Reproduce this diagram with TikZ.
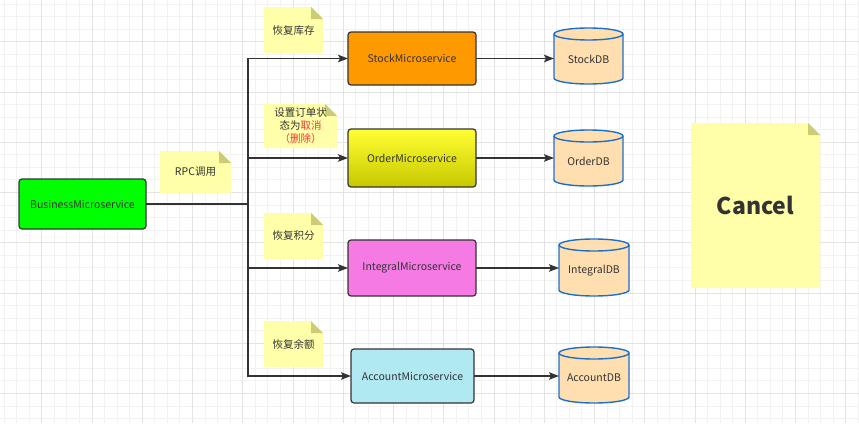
\documentclass[tikz,border=0pt]{standalone}
\usepackage{fontspec}
\setmainfont{Noto Sans CJK SC}
\usetikzlibrary{arrows.meta}
\definecolor{txt}{HTML}{333333}
\definecolor{gridminor}{HTML}{F2F2F2}
\definecolor{gridmajor}{HTML}{E3E3E3}
\definecolor{notefill}{HTML}{FFFFAA}
\definecolor{notefold}{HTML}{CCCC77}
\definecolor{dbfill}{HTML}{FFDFB0}
\definecolor{dbline}{HTML}{1E6FC8}
\definecolor{redtxt}{HTML}{FF3333}
\definecolor{stockc}{HTML}{FF9900}
\definecolor{ordertop}{HTML}{FFFF33}
\definecolor{orderbot}{HTML}{C8C800}
\definecolor{integralc}{HTML}{F57AE3}
\definecolor{accountc}{HTML}{B0E9F1}
\definecolor{bizc}{HTML}{00FF00}
\tikzset{
  svc/.style={draw=txt, line width=1.2pt, rounded corners=3pt, inner sep=0pt, outer sep=0pt,
    text=txt, font=\fontsize{10.5}{12}\selectfont},
  notetext/.style={text=txt, font=\fontsize{10.5}{13}\selectfont, align=center, inner sep=0pt},
  dbtext/.style={text=txt, font=\fontsize{10.5}{12}\selectfont, inner sep=0pt, outer sep=0pt},
  dbshape/.style={draw=dbline, fill=dbfill, line width=1.4pt},
  conn/.style={draw=txt, line width=1.3pt},
  arr/.style={conn, -{Stealth[length=10pt,width=7.5pt,inset=2pt]}},
}
\newcommand\notebg[4]{%
  \fill[notefill] (#1,#2) -- (#3-12,#2) -- (#3,#2+12) -- (#3,#4) -- (#1,#4) -- cycle;
  \fill[notefold] (#3-12,#2) -- (#3,#2+12) -- (#3-12,#2+12) -- cycle;}
\newcommand\dbcyl[6]{%
  \filldraw[dbshape] (#2-#5,#3+6) -- (#2-#5,#4-6)
    arc[start angle=180,end angle=360,x radius=#5pt,y radius=6pt]
    -- (#2+#5,#3+6)
    arc[start angle=0,end angle=180,x radius=#5pt,y radius=6pt] -- cycle;
  \draw[dbshape, fill=none] (#2-#5,#3+6) arc[start angle=180,end angle=360,x radius=#5pt,y radius=6pt];
  \node[dbtext, minimum width=2*#5pt, minimum height=#4-#3-6] (#1) at (#2,{(#3+6+#4)/2}) {#6};}
\begin{document}
\begin{tikzpicture}[x=1pt,y=-1pt]
\useasboundingbox (0,0) rectangle (859,423);
\fill[white] (0,0) rectangle (859,423);
% grid
\foreach \i in {0,...,68}{\pgfmathsetmacro\gx{4.02+\i*12.5625}\draw[gridminor,line width=0.9pt] (\gx,0) -- (\gx,423);}
\foreach \i in {0,...,33}{\pgfmathsetmacro\gy{4.02+\i*12.5625}\draw[gridminor,line width=0.9pt] (0,\gy) -- (859,\gy);}
\foreach \i in {0,...,16}{\pgfmathsetmacro\gx{41.7+\i*50.25}\draw[gridmajor,line width=0.9pt] (\gx,0) -- (\gx,423);}
\foreach \i in {0,...,7}{\pgfmathsetmacro\gy{41.7+\i*50.25}\draw[gridmajor,line width=0.9pt] (0,\gy) -- (859,\gy);}

% notes
\notebg{160}{151}{231}{193}
\node[notetext] (nrpc) at (195.5,172) {RPC调用};
\notebg{264}{7}{323}{53}
\node[notetext] (nstock) at (293.5,30.5) {恢复库存};
\notebg{264}{104}{337}{148}
\node[notetext] (norder) at (300.5,125.5) {设置订单状\\态为\textcolor{redtxt}{取消}\\\textcolor{redtxt}{（删除）}};
\notebg{264}{213}{323}{259}
\node[notetext] (nintegral) at (293.5,236) {恢复积分};
\notebg{264}{321}{323}{367}
\node[notetext] (naccount) at (293.5,344) {恢复余额};
\notebg{691}{123}{820}{288}
\node[text=txt, font=\fontsize{23}{26}\selectfont\bfseries, inner sep=0pt] (ncancel) at (755.5,205.5) {Cancel};

% services
\node[svc, fill=bizc, minimum width=127pt, minimum height=50pt] (biz) at (82.5,204) {BusinessMicroservice};
\node[svc, fill=stockc, minimum width=128pt, minimum height=53pt] (stock) at (412,58.5) {StockMicroservice};
\node[svc, top color=ordertop, bottom color=orderbot, minimum width=128pt, minimum height=58pt] (order) at (412,158) {OrderMicroservice};
\node[svc, fill=integralc, minimum width=128pt, minimum height=56pt] (integral) at (412,268) {IntegralMicroservice};
\node[svc, fill=accountc, minimum width=123pt, minimum height=54pt] (account) at (412.5,376) {AccountMicroservice};

% databases
\dbcyl{sdb}{588.5}{28}{84}{34.5}{StockDB}
\dbcyl{odb}{588.5}{130}{186}{34.5}{OrderDB}
\dbcyl{idb}{594}{239}{296}{35}{IntegralDB}
\dbcyl{adb}{594}{347}{403}{35}{AccountDB}

% connectors
\coordinate (j) at (248,204);
\draw[conn] (biz.east) -- (j);
\draw[arr] (j) |- (stock.west);
\draw[arr] (j) |- (order.west);
\draw[arr] (j) |- (integral.west);
\draw[arr] (j) |- (account.west);
\draw[arr] (stock.east) -- (stock.east -| sdb.west);
\draw[arr] (order.east) -- (order.east -| odb.west);
\draw[arr] (integral.east) -- (integral.east -| idb.west);
\draw[arr] (account.east) -- (account.east -| adb.west);
\end{tikzpicture}
\end{document}
